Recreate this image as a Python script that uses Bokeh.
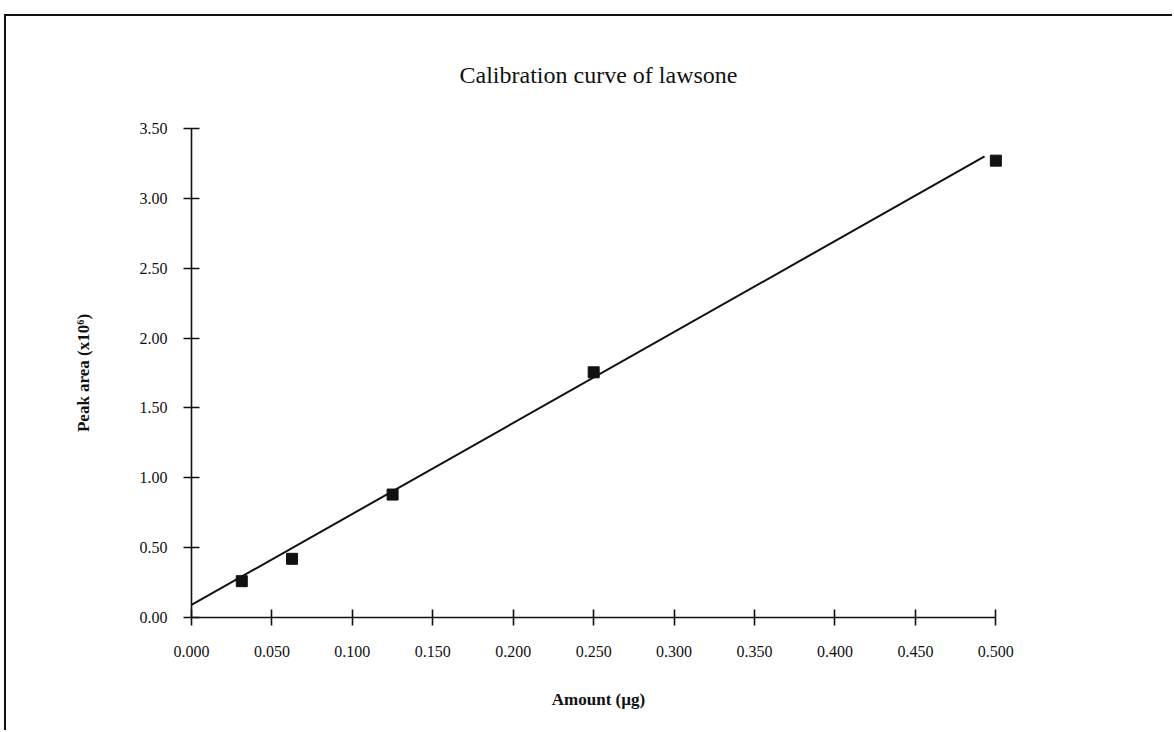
from bokeh.plotting import figure
from bokeh.models import Range1d, NumeralTickFormatter, FixedTicker
from bokeh.embed import file_html
from bokeh.resources import INLINE

# Calibration standards: injected amount (µg) and peak area (x10^6)
amount_ug = [0.03125, 0.0625, 0.125, 0.25, 0.5]
peak_area = [0.26, 0.42, 0.88, 1.755, 3.27]

# Linear trendline end points
trend_x = [0.0, 0.493]
trend_y = [0.09, 3.30]

x_ticks = [0.0, 0.05, 0.1, 0.15, 0.2, 0.25, 0.3, 0.35, 0.4, 0.45, 0.5]
y_ticks = [0.0, 0.5, 1.0, 1.5, 2.0, 2.5, 3.0, 3.5]

FONT = "Liberation Serif"

p = figure(
    width=1168, height=716,
    x_range=Range1d(0, 0.506), y_range=Range1d(0, 3.5),
    output_backend="svg", toolbar_location=None,
    min_border_left=185, min_border_right=169,
    min_border_top=112, min_border_bottom=115,
    title="Calibration curve of lawsone",
)

# Page frame: rule along the top and left edge of the sheet
p.styles = {
    "margin-top": "14px",
    "margin-left": "4px",
    "border-top": "2px solid #111111",
    "border-left": "2px solid #111111",
}

p.title.align = "center"
p.title.text_font = FONT
p.title.text_font_size = "24px"
p.title.text_font_style = "normal"
p.title.text_color = "#111111"
p.title.standoff = 82

p.grid.visible = False
p.outline_line_color = None
p.background_fill_color = "white"
p.border_fill_color = "white"

for ax, ticks, fmt in ((p.xaxis[0], x_ticks, "0.000"), (p.yaxis[0], y_ticks, "0.00")):
    ax.ticker = FixedTicker(ticks=ticks)
    ax.formatter = NumeralTickFormatter(format=fmt)
    ax.axis_line_color = "#111111"
    ax.axis_line_width = 1.6
    ax.major_tick_line_color = "#111111"
    ax.major_tick_line_width = 1.6
    ax.major_tick_in = 8
    ax.major_tick_out = 8
    ax.minor_tick_line_color = None
    ax.major_label_text_font = FONT
    ax.major_label_text_font_size = "16px"
    ax.major_label_text_color = "#111111"
    ax.axis_label_text_font = FONT
    ax.axis_label_text_font_size = "17px"
    ax.axis_label_text_font_style = "bold"
    ax.axis_label_text_color = "#111111"

p.xaxis.bounds = (0, 0.5)
p.xaxis.axis_label = "Amount (µg)"
p.xaxis.major_label_standoff = 20
p.xaxis.axis_label_standoff = 30

p.yaxis.axis_label = "Peak area (x10⁶)"
p.yaxis.major_label_standoff = 16
p.yaxis.axis_label_standoff = 44

p.line(trend_x, trend_y, line_color="#111111", line_width=2)
p.scatter(amount_ug, peak_area, marker="square", size=11,
          fill_color="#111111", line_color="#111111")

open("out.html", "w").write(file_html(p, INLINE))
